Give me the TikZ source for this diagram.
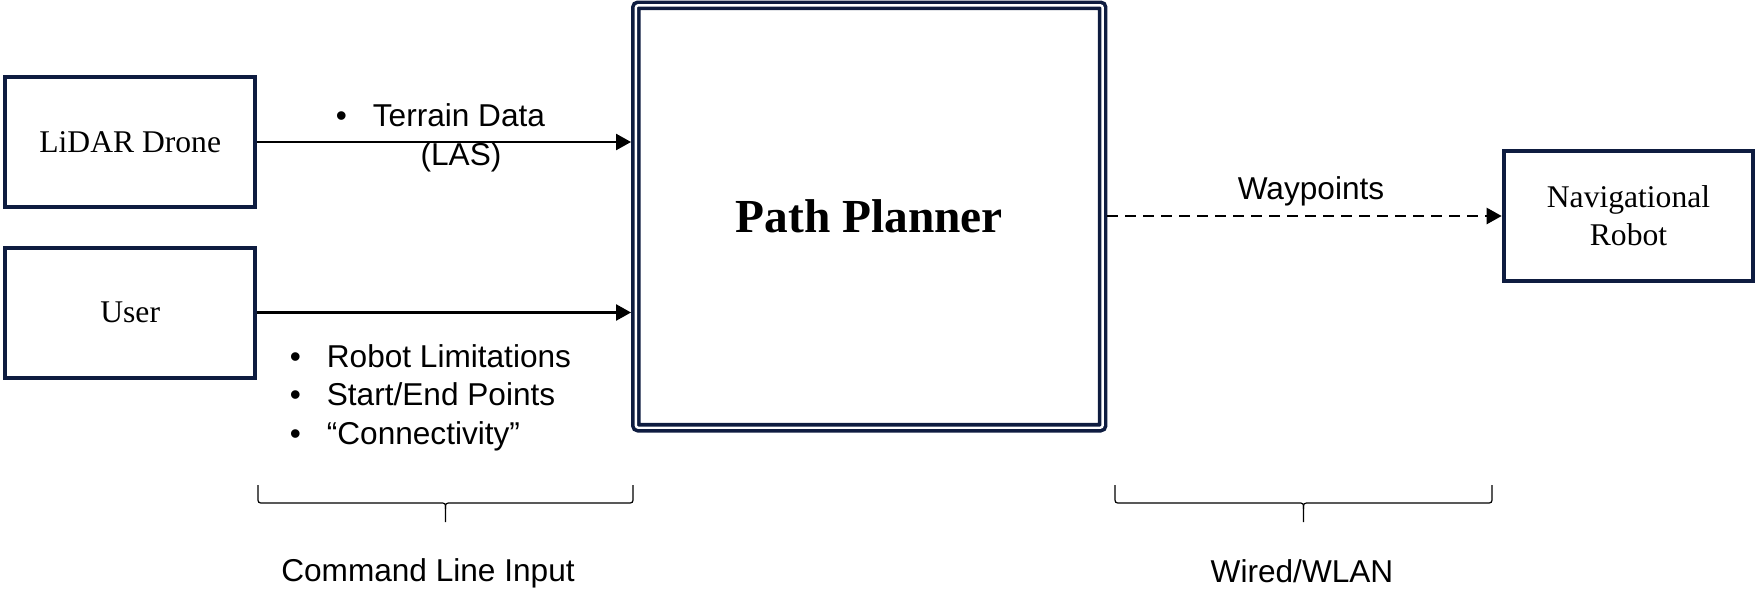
\documentclass[tikz,border=0pt]{standalone}
\usepackage{fontspec}
\setmainfont{Liberation Serif}
\setsansfont{Liberation Sans}
\usetikzlibrary{arrows.meta}
\definecolor{boxc}{RGB}{14,28,64}
\tikzset{
 block/.style={draw=boxc, line width=2pt, minimum width=124.8pt, minimum height=65pt, inner sep=0pt, font=\fontsize{15.8}{19}\selectfont, align=center},
 lbl/.style={font=\sffamily\fontsize{15.8}{19}\selectfont, inner sep=0pt},
 flow/.style={line width=1.2pt, -{Triangle[length=7.5pt,width=8pt]}},
 bracestyle/.style={line width=0.6pt, line join=round},
}
\newcommand{\bul}{\makebox[18.5pt][l]{•}}
\begin{document}
\begin{tikzpicture}[x=0.5pt,y=-0.5pt]
\useasboundingbox (0,0) rectangle (1758,594);
% boxes
\node[block] (lidar) at (130.2,142) {LiDAR Drone};
\node[block] (user) at (130.2,312.5) {User};
\node[draw=boxc, line width=1.8pt, double=white, double distance=1.2pt,
      minimum width=233.4pt, minimum height=211.2pt, outer sep=2.4pt, inner sep=0pt,
      rounded corners=1.2pt, font=\bfseries\fontsize{23.7}{28}\selectfont] (planner) at (869.25,216.5) {Path Planner};
\node[block] (robot) at (1628.5,216) {Navigational\\Robot};
% connectors
\draw[flow] (lidar.east) -- (lidar.east -| planner.west);
\draw[flow] (user.east) -- (user.east -| planner.west);
\draw[flow, dash pattern=on 5.5pt off 3.5pt] (planner.east |- robot.west) -- (robot.west);
% labels
\node[lbl, anchor=base west] (terrain) at (335.5,126) {\bul Terrain Data};
\node[lbl, anchor=base] (las) at (461,165) {(LAS)};
\node[lbl, anchor=base west] (limits) at (289.5,367) {\bul Robot Limitations};
\node[lbl, anchor=base west] (points) at (289.5,405.5) {\bul Start/End Points};
\node[lbl, anchor=base west] (conn) at (289.5,444) {\bul “Connectivity”};
\node[lbl, anchor=base] (way) at (1311,199.5) {Waypoints};
% braces
\draw[bracestyle] (258,485) -- (258,497) .. controls (258,503) .. (264,503) -- (439.5,503) .. controls (445.5,503) .. (445.5,509) -- (445.5,522);
\draw[bracestyle] (633,485) -- (633,497) .. controls (633,503) .. (627,503) -- (451.5,503) .. controls (445.5,503) .. (445.5,509);
\draw[bracestyle] (1115,485) -- (1115,497) .. controls (1115,503) .. (1121,503) -- (1297.5,503) .. controls (1303.5,503) .. (1303.5,509) -- (1303.5,522);
\draw[bracestyle] (1492,485) -- (1492,497) .. controls (1492,503) .. (1486,503) -- (1309.5,503) .. controls (1303.5,503) .. (1303.5,509);
\node[lbl, anchor=base] (cli) at (428,581) {Command Line Input};
\node[lbl, anchor=base] (wlan) at (1302,582) {Wired/WLAN};
\end{tikzpicture}
\end{document}
